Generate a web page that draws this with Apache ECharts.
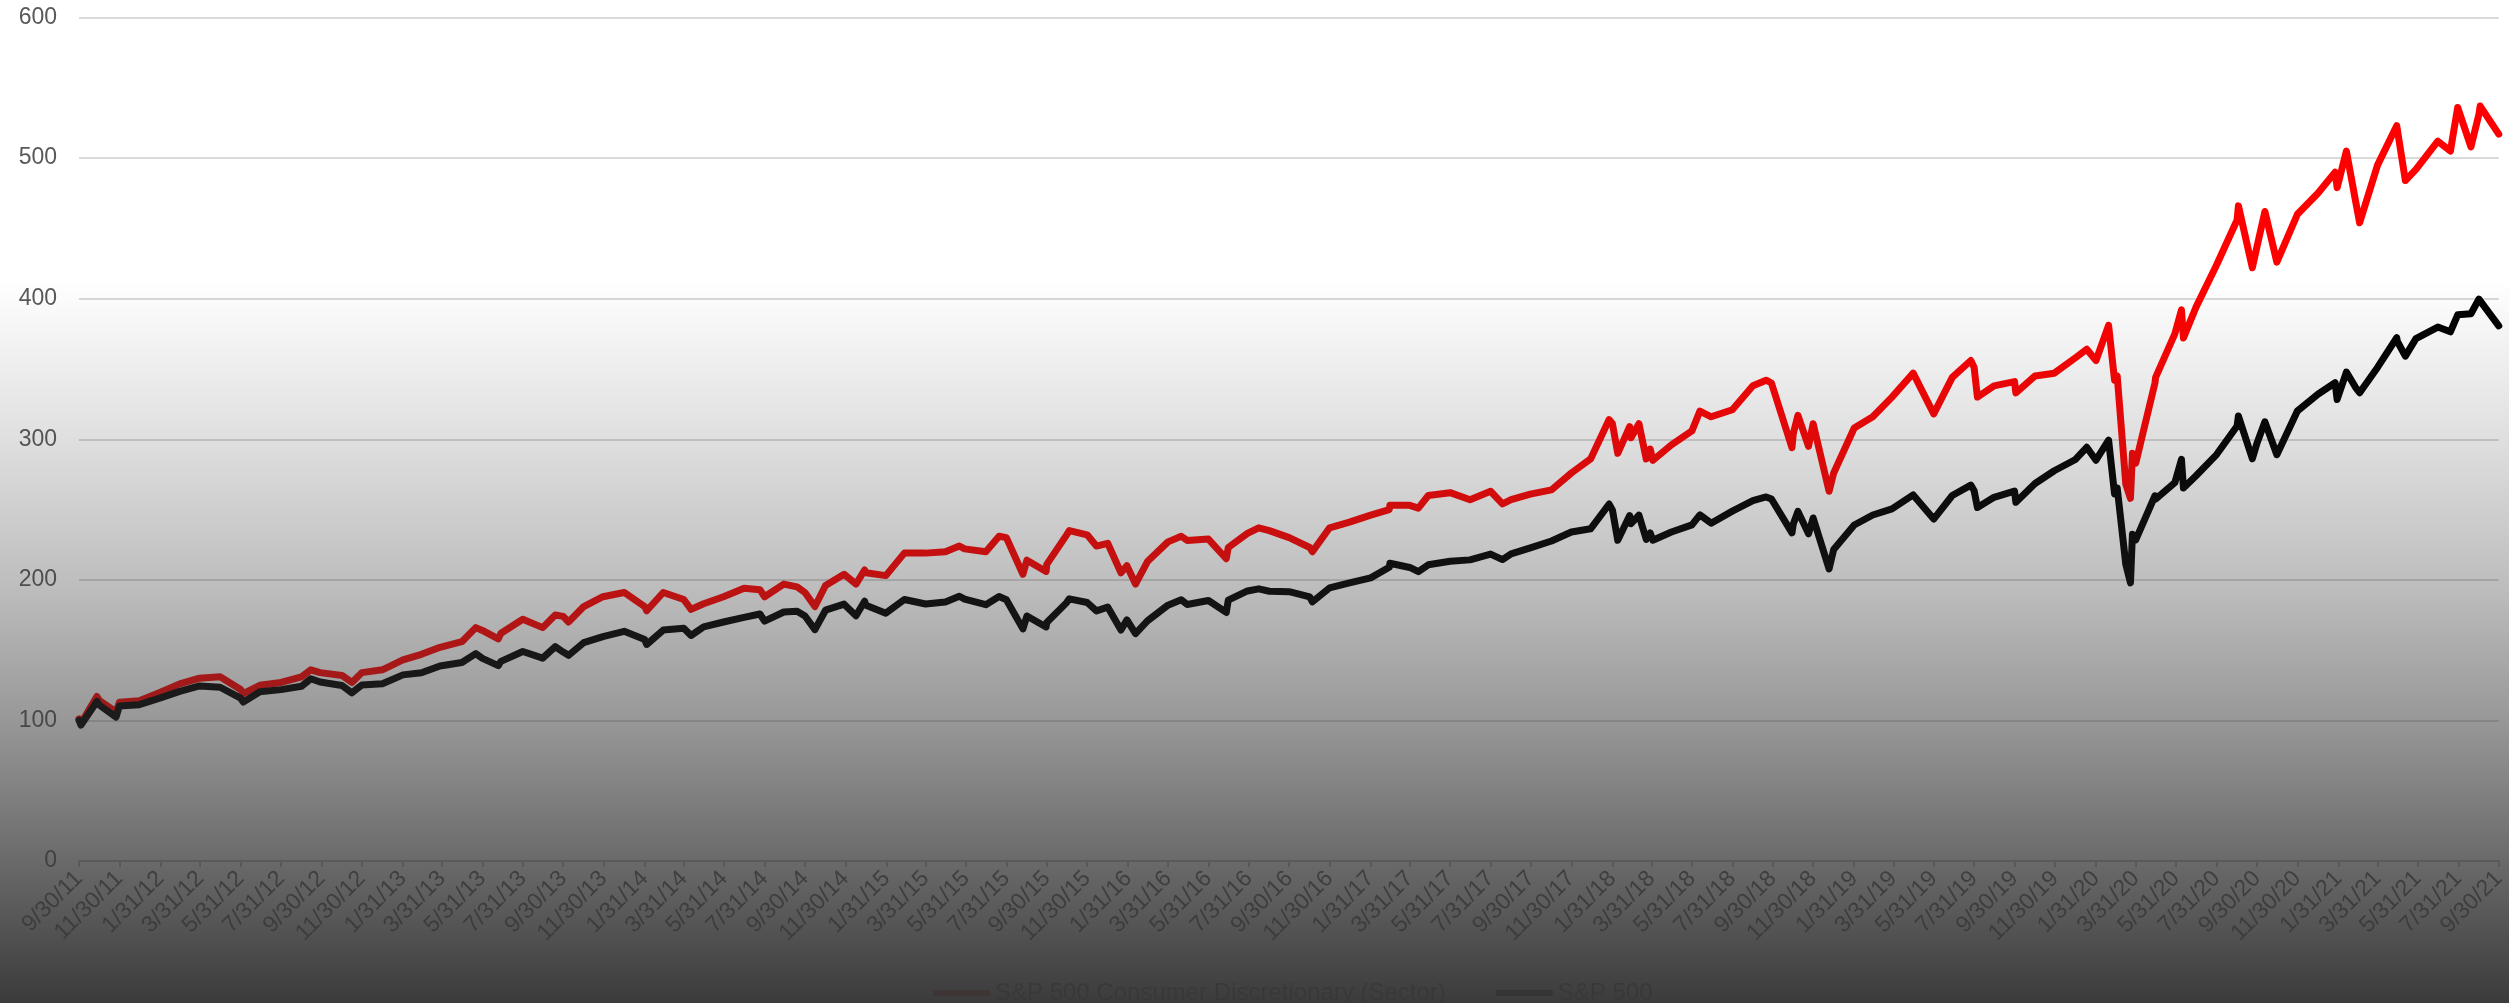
<!DOCTYPE html>
<html>
<head>
<meta charset="utf-8">
<script src="https://cdn.jsdelivr.net/npm/echarts@6/dist/echarts.min.js"></script>
<style>
html,body{margin:0;padding:0;background:#fff;}
#chart{width:2509px;height:1003px;}
</style>
</head>
<body>
<div id="chart"></div>
<script>
// ---- data (index levels, 9/30/11 = 100) ----
var dates = [
"2011-09-30","2011-10-03","2011-10-27","2011-10-31","2011-11-25","2011-11-30","2011-12-30",
"2012-01-31","2012-02-29","2012-03-30","2012-04-30","2012-05-31","2012-06-04","2012-06-29","2012-07-31","2012-08-31","2012-09-14","2012-09-28","2012-10-31","2012-11-15","2012-11-30","2012-12-31",
"2013-01-31","2013-02-28","2013-03-28","2013-04-30","2013-05-21","2013-05-31","2013-06-24","2013-06-28","2013-07-31","2013-08-30","2013-09-18","2013-09-30","2013-10-08","2013-10-31","2013-11-29","2013-12-31",
"2014-01-31","2014-02-03","2014-02-28","2014-03-31","2014-04-11","2014-04-30","2014-05-30","2014-06-30","2014-07-24","2014-07-31","2014-08-29","2014-09-18","2014-09-30","2014-10-15","2014-10-31","2014-11-28","2014-12-16","2014-12-29","2014-12-31",
"2015-01-30","2015-02-27","2015-03-31","2015-04-30","2015-05-21","2015-05-29","2015-06-30","2015-07-20","2015-07-31","2015-08-25","2015-08-31","2015-09-29","2015-09-30","2015-10-30","2015-11-03","2015-11-30","2015-12-14","2015-12-31",
"2016-01-20","2016-01-29","2016-02-11","2016-02-29","2016-03-31","2016-04-20","2016-04-29","2016-05-31","2016-06-27","2016-06-30","2016-07-29","2016-08-15","2016-08-31","2016-09-30","2016-10-31","2016-11-04","2016-11-30","2016-12-30",
"2017-01-31","2017-02-28","2017-03-01","2017-03-31","2017-04-13","2017-04-28","2017-05-31","2017-06-30","2017-07-31","2017-08-18","2017-08-31","2017-09-29","2017-10-31","2017-11-30","2017-12-29",
"2018-01-26","2018-01-31","2018-02-08","2018-02-26","2018-02-28","2018-03-12","2018-03-23","2018-03-29","2018-04-02","2018-04-30","2018-05-31","2018-06-12","2018-06-29","2018-07-31","2018-08-31","2018-09-20","2018-09-28","2018-10-29","2018-10-31","2018-11-07","2018-11-23","2018-11-30","2018-12-24","2018-12-31",
"2019-01-31","2019-02-28","2019-03-29","2019-04-30","2019-05-31","2019-06-03","2019-06-28","2019-07-26","2019-07-31","2019-08-05","2019-08-30","2019-09-30","2019-10-02","2019-10-31","2019-11-29","2019-12-31",
"2020-01-17","2020-01-31","2020-02-19","2020-02-28","2020-03-03","2020-03-16","2020-03-23","2020-03-26","2020-03-31","2020-04-29","2020-04-30","2020-05-29","2020-06-08","2020-06-11","2020-06-30","2020-07-31","2020-08-31","2020-09-02","2020-09-23","2020-09-30","2020-10-12","2020-10-30","2020-11-30","2020-12-31",
"2021-01-26","2021-01-29","2021-02-12","2021-02-26","2021-03-04","2021-03-31","2021-04-29","2021-04-30","2021-05-12","2021-05-28","2021-06-30","2021-07-19","2021-07-30","2021-08-19","2021-08-31","2021-09-02","2021-09-30"
];

var consumerDiscretionary = [
101,98,117,114,106,113,114,
120,126,130,131,122,119,125,127,131,136,134,132,127,134,136,
143,147,152,156,166,164,158,162,172,166,175,174,170,181,188,191,
181,178,191,186,179,183,188,194,193,188,197,195,191,181,196,204,197,207,205,
203,219,219,220,224,222,220,231,230,204,214,206,211,232,235,232,224,226,
205,210,197,213,227,231,228,229,215,223,233,237,235,230,223,220,237,241,
246,250,253,253,251,260,262,257,263,254,257,261,264,276,286,
314,311,290,309,301,311,286,293,285,296,306,320,316,321,338,342,340,294,304,317,295,311,263,276,
308,316,330,347,318,318,344,356,351,330,338,341,333,345,347,358,
364,356,381,342,345,268,258,290,283,340,344,375,392,372,394,424,456,466,422,437,462,426,460,475,
490,479,505,469,454,495,523,522,484,492,512,505,536,508,531,537,517
];

var sp500 = [
100.0,96.7,113.5,110.8,102.4,110.2,111.2,
116.0,120.7,124.5,123.6,115.8,113.0,120.4,121.9,124.3,129.6,127.3,124.8,119.6,125.2,126.1,
132.4,133.9,138.7,141.2,147.5,144.1,139.0,142.0,149.0,144.3,152.5,148.6,146.3,155.3,159.6,163.4,
157.6,154.0,164.3,165.5,160.4,166.5,170.0,173.3,175.7,170.6,177.1,177.7,174.3,164.6,178.4,182.7,174.4,184.8,182.0,
176.3,186.0,182.8,184.3,188.3,186.3,182.3,188.1,185.9,165.1,174.3,166.5,169.7,183.8,186.5,183.9,177.9,180.6,
164.3,171.5,161.7,170.8,182.0,185.8,182.5,185.3,176.8,185.5,192.1,193.6,191.9,191.6,187.9,184.3,194.3,197.9,
201.4,208.9,211.8,208.8,205.8,210.7,213.2,214.2,218.3,214.4,218.5,222.7,227.6,234.0,236.3,
253.9,249.6,228.1,245.7,239.9,246.0,228.8,233.4,228.2,234.0,239.1,246.2,240.3,248.9,256.4,259.0,257.5,233.4,239.7,248.7,232.7,244.0,207.8,221.6,
239.0,246.1,250.5,260.4,243.2,242.5,260.0,267.4,263.4,251.4,258.7,263.1,255.2,268.5,277.6,285.6,
294.3,285.1,299.3,261.1,265.4,210.9,197.8,232.5,228.4,259.8,257.4,269.1,285.7,265.3,274.0,289.1,309.4,316.5,286.1,297.2,312.4,289.0,320.1,332.0,
340.2,328.3,347.8,336.8,333.1,351.1,372.2,369.5,359.1,371.6,379.8,376.4,388.5,389.3,399.7,401.0,380.7
];

var tickLabels = [
'9/30/11','11/30/11','1/31/12','3/31/12','5/31/12','7/31/12','9/30/12','11/30/12','1/31/13','3/31/13','5/31/13','7/31/13',
'9/30/13','11/30/13','1/31/14','3/31/14','5/31/14','7/31/14','9/30/14','11/30/14','1/31/15','3/31/15','5/31/15','7/31/15',
'9/30/15','11/30/15','1/31/16','3/31/16','5/31/16','7/31/16','9/30/16','11/30/16','1/31/17','3/31/17','5/31/17','7/31/17',
'9/30/17','11/30/17','1/31/18','3/31/18','5/31/18','7/31/18','9/30/18','11/30/18','1/31/19','3/31/19','5/31/19','7/31/19',
'9/30/19','11/30/19','1/31/20','3/31/20','5/31/20','7/31/20','9/30/20','11/30/20','1/31/21','3/31/21','5/31/21','7/31/21','9/30/21'
];

var seriesNames = ['S&P 500 Consumer Discretionary (Sector)', 'S&P 500'];

// ---- helpers: dates -> day numbers (UTC days since epoch) ----
var DAY = 86400000;
function isoToDay(s){ var p=s.split('-'); return Math.round(Date.UTC(+p[0], +p[1]-1, +p[2]) / DAY); }
function mdyToDay(s){ var p=s.split('/'); return Math.round(Date.UTC(2000 + +p[2], +p[0]-1, +p[1]) / DAY); }
var tickValues = tickLabels.map(mdyToDay);
var labelByDay = {};
tickLabels.forEach(function(l,i){ labelByDay[tickValues[i]] = l; });
function pairs(vals){ return dates.map(function(d,i){ return [isoToDay(d), vals[i]]; }); }

var FONT = '"Liberation Sans", Arial, sans-serif';
var chart = echarts.init(document.getElementById('chart'), null, {renderer:'canvas'});

chart.setOption({
  animation: false,
  backgroundColor: '#ffffff',
  grid: { left: 79, right: 5, top: 17.5, bottom: 142, containLabel: false },
  legend: {
    left: 928, top: 976,
    icon: 'rect', itemWidth: 57, itemHeight: 6, itemGap: 50,
    textStyle: { color: '#595959', fontSize: 24, fontFamily: FONT },
    data: seriesNames
  },
  xAxis: {
    type: 'value',
    min: tickValues[0],
    max: tickValues[tickValues.length-1],
    axisLine: { show: true, lineStyle: { color: '#bfbfbf', width: 2 } },
    axisTick: { show: true, customValues: tickValues, length: 6, lineStyle: { color: '#bfbfbf', width: 2 } },
    axisLabel: {
      customValues: tickValues, rotate: 45, margin: 14, hideOverlap: false,
      color: '#595959', fontSize: 23, fontFamily: FONT,
      formatter: function(v){ return labelByDay[Math.round(v)] || ''; }
    },
    splitLine: { show: false }
  },
  yAxis: {
    type: 'value', min: 0, max: 600, interval: 100,
    axisLine: { show: false }, axisTick: { show: false },
    axisLabel: { color: '#595959', fontSize: 23, fontFamily: FONT, margin: 22 },
    splitLine: { lineStyle: { color: '#d9d9d9', width: 2 } }
  },
  series: [
    { name: seriesNames[0], type: 'line', data: pairs(consumerDiscretionary), showSymbol: false, symbol: 'none',
      lineStyle: { color: '#ff0000', width: 7, join: 'round', cap: 'round' }, itemStyle: { color: '#ff0000' } },
    { name: seriesNames[1], type: 'line', data: pairs(sp500), showSymbol: false, symbol: 'none',
      lineStyle: { color: '#000000', width: 7, join: 'round', cap: 'round' }, itemStyle: { color: '#000000' } }
  ],
  graphic: [{
    type: 'rect', z: 1000, silent: true,
    shape: { x: 0, y: 0, width: 2509, height: 1003 },
    style: { fill: new echarts.graphic.LinearGradient(0, 0, 0, 1, [
      { offset: 0, color: 'rgba(55,55,55,0)' },
      { offset: 0.279, color: 'rgba(55,55,55,0)' },
      { offset: 0.439, color: 'rgba(55,55,55,0.16)' },
      { offset: 0.588, color: 'rgba(55,55,55,0.335)' },
      { offset: 0.708, color: 'rgba(55,55,55,0.5)' },
      { offset: 0.778, color: 'rgba(55,55,55,0.61)' },
      { offset: 1, color: 'rgba(55,55,55,0.98)' }
    ]) }
  }]
});
</script>
</body>
</html>
